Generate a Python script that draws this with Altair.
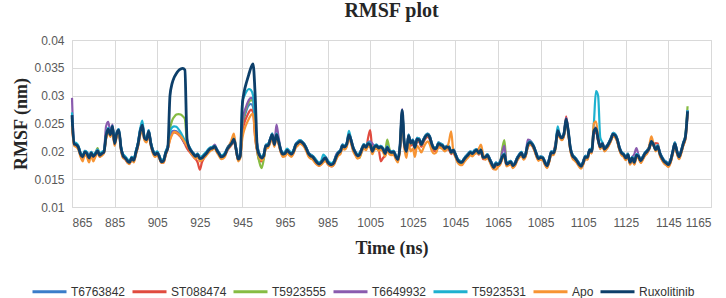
import altair as alt
import pandas as pd

start_residue = 865
series_names = ["T6763842", "ST088474", "T5923555", "T6649932", "T5923531", "Apo", "Ruxolitinib"]
series_colors = ["#3A7DC9", "#E04B3F", "#86BC43", "#8A5BAE", "#1EB1CF", "#F79433", "#0D3F6A"]
x_ticks = list(range(865, 1166, 20))
y_ticks = [0.01, 0.015, 0.02, 0.025, 0.03, 0.035, 0.04]

# RMSF values in units of 1e-4 nm, one value per residue from 865 to 1154
t6763842 = [
    255,215,214,206,197,192,197,198,190,195,
    193,196,200,195,197,200,226,238,232,240,
    216,230,236,208,194,190,185,182,187,186,
    200,215,240,245,226,223,234,216,202,196,
    199,192,183,185,199,209,228,236,237,236,
    233,228,222,215,212,206,199,196,193,195,
    189,190,193,197,202,206,208,208,203,197,
    192,193,198,206,212,217,220,203,188,194,
    240,262,275,283,285,280,230,202,195,190,
    194,208,212,222,228,214,228,216,204,197,
    198,204,200,197,202,212,217,219,214,210,
    206,198,194,192,187,182,179,182,187,190,
    183,179,178,182,192,199,202,212,209,214,
    228,218,204,197,193,196,205,212,209,216,
    214,203,209,211,207,207,203,198,208,202,
    200,200,193,187,208,268,213,202,226,214,
    220,209,221,220,214,221,226,228,223,210,
    204,206,213,211,209,206,209,206,200,203,
    195,187,183,182,186,191,195,199,197,201,
    203,198,201,190,190,194,187,180,173,179,
    178,182,192,196,179,180,182,176,180,189,
    194,198,191,196,213,214,211,204,196,189,
    190,189,182,176,186,199,199,210,235,226,
    222,230,255,234,204,193,189,185,179,175,
    182,192,191,203,202,232,238,220,207,212,
    205,209,215,221,229,227,219,205,198,195,
    190,195,182,189,182,194,192,185,190,197,
    201,207,216,211,204,208,197,189,184,181,
    178,184,199,212,201,192,201,213,225,270,
]
st088474 = [
    250,212,210,205,193,186,196,194,185,194,
    189,192,198,190,194,197,224,236,228,238,
    212,228,234,204,189,186,180,178,185,182,
    196,210,232,240,222,218,230,212,198,192,
    194,188,179,180,194,205,222,232,234,233,
    230,226,220,213,205,200,195,190,186,180,
    167,180,188,194,198,203,204,206,200,194,
    188,189,194,202,207,212,218,202,184,190,
    235,252,262,270,275,270,225,198,183,182,
    188,205,208,216,226,210,226,214,199,192,
    193,199,195,192,197,208,212,215,213,209,
    202,193,189,187,182,177,174,177,182,185,
    178,174,173,177,186,194,197,207,205,210,
    226,216,203,195,189,191,200,208,204,224,
    238,205,205,207,203,182,188,192,204,197,
    195,196,188,182,206,265,210,196,222,210,
    214,203,218,217,208,216,223,226,221,208,
    201,201,210,208,206,201,204,203,195,199,
    191,182,178,177,182,187,191,195,193,197,
    199,194,199,186,186,190,183,175,168,175,
    173,177,187,191,174,176,178,171,175,184,
    190,194,186,192,208,212,210,203,192,184,
    186,185,177,171,181,195,198,215,232,225,
    221,229,263,233,202,189,185,180,174,170,
    177,187,186,199,197,230,236,218,205,211,
    201,205,211,219,228,226,218,203,194,191,
    185,191,177,185,177,190,188,180,186,193,
    197,203,214,210,215,214,194,185,179,176,
    173,180,195,211,197,187,197,211,223,268,
]
t5923555 = [
    260,214,213,208,196,191,200,197,189,198,
    192,196,206,194,197,200,227,239,231,244,
    215,231,237,207,193,189,184,181,189,185,
    199,214,234,246,225,222,235,215,201,195,
    198,191,182,184,198,208,240,255,262,266,
    267,266,263,258,215,206,199,194,190,193,
    186,187,191,195,200,204,205,208,201,195,
    189,190,195,204,209,214,221,204,185,191,
    250,268,280,288,292,290,240,200,180,170,
    185,207,209,219,229,211,229,217,201,194,
    195,201,197,194,199,210,214,217,215,211,
    204,195,191,189,184,179,176,179,184,187,
    180,176,175,179,189,196,199,209,207,212,
    229,219,205,197,191,188,202,210,206,213,
    211,199,207,209,205,207,203,200,221,205,
    197,198,190,184,209,272,214,199,227,214,
    218,206,221,220,211,219,226,229,224,211,
    204,204,213,211,209,204,207,206,197,201,
    193,184,180,179,184,189,193,197,195,199,
    201,196,201,188,188,192,185,177,170,177,
    175,180,205,220,180,178,180,173,177,186,
    192,196,188,194,211,215,212,205,194,186,
    188,187,179,173,183,197,196,207,236,227,
    223,231,257,235,204,191,187,182,176,172,
    179,189,188,201,199,235,240,221,207,213,
    203,207,213,221,230,228,220,205,196,193,
    187,193,179,187,179,192,190,182,188,195,
    199,205,217,211,202,208,195,187,181,178,
    175,182,197,213,199,189,199,213,230,281,
]
t6649932 = [
    296,216,214,209,197,188,201,198,190,199,
    193,197,203,195,198,201,245,253,235,248,
    216,234,240,208,194,186,181,178,190,182,
    200,215,237,249,226,223,238,216,202,196,
    199,192,183,185,199,209,225,234,236,235,
    232,227,221,214,212,208,202,197,193,196,
    189,190,194,198,203,207,208,212,204,198,
    192,193,198,207,212,217,224,207,188,194,
    255,272,283,292,296,294,240,212,195,190,
    194,212,212,222,232,214,248,225,204,197,
    198,204,200,197,202,213,217,220,218,214,
    207,198,194,192,187,182,179,182,187,190,
    183,179,178,182,194,199,202,212,210,215,
    232,222,208,200,194,196,205,213,209,216,
    218,214,210,212,208,210,206,198,209,202,
    200,201,193,187,212,276,217,202,230,217,
    221,209,224,223,214,222,229,232,227,214,
    207,207,216,214,212,207,210,209,200,204,
    196,187,183,182,187,192,196,200,198,202,
    204,199,204,191,191,195,188,180,173,180,
    178,182,198,210,179,181,183,176,180,189,
    195,199,191,197,221,220,215,208,197,189,
    191,190,182,176,186,200,199,210,239,230,
    226,234,260,238,207,194,190,185,179,175,
    182,192,191,204,202,238,243,224,210,216,
    206,210,216,224,233,231,223,208,199,196,
    190,196,182,190,195,206,193,185,191,198,
    202,208,220,214,205,211,198,190,184,181,
    178,185,200,216,202,192,202,216,228,274,
]
t5923531 = [
    270,216,215,210,198,193,201,199,191,199,
    194,198,203,196,199,202,230,242,233,246,
    217,234,240,209,195,191,186,183,190,187,
    201,216,240,255,228,224,238,217,203,197,
    200,193,184,186,200,210,235,243,245,244,
    240,234,227,220,215,209,202,197,193,196,
    190,191,195,199,204,207,208,210,204,198,
    193,194,199,207,212,217,224,207,189,195,
    290,300,308,312,310,300,250,210,196,191,
    195,212,213,222,232,214,232,220,204,197,
    199,205,201,198,203,213,217,220,218,214,
    207,198,194,192,188,183,180,183,194,190,
    184,180,179,183,192,199,202,212,210,215,
    237,222,208,200,195,197,205,213,209,216,
    214,202,210,212,208,210,206,199,209,202,
    200,201,193,188,212,272,217,202,230,217,
    221,209,224,223,214,222,229,232,227,214,
    207,207,216,214,212,207,210,209,200,204,
    196,187,183,182,187,192,196,200,198,202,
    204,199,204,191,191,195,188,180,173,180,
    178,182,192,196,179,181,183,176,180,189,
    195,199,191,197,214,218,215,208,197,189,
    191,190,182,176,186,200,199,212,245,230,
    226,234,256,238,207,194,190,185,179,175,
    182,192,191,204,205,250,308,300,225,216,
    206,210,216,224,233,231,223,208,199,196,
    190,196,182,190,182,195,193,185,191,198,
    202,208,220,214,205,211,198,190,184,181,
    178,185,200,216,202,192,202,216,228,274,
]
apo = [
    245,210,208,203,190,182,194,190,180,192,
    182,190,198,190,192,197,222,234,226,236,
    210,226,232,202,188,186,180,177,185,180,
    194,208,228,236,220,216,230,210,196,190,
    193,187,179,180,193,205,220,230,235,234,
    231,227,222,216,210,204,196,191,187,190,
    182,184,188,192,197,201,203,205,198,192,
    186,187,192,205,212,222,232,205,182,188,
    224,240,250,258,265,268,222,200,189,184,
    188,205,206,215,225,208,225,213,198,190,
    191,197,193,190,196,206,210,214,212,208,
    200,191,187,185,180,176,174,176,180,183,
    177,174,173,176,185,192,195,205,203,208,
    225,214,200,193,187,189,198,206,202,209,
    207,195,203,205,201,203,199,191,202,195,
    193,194,186,180,204,262,208,188,215,200,
    205,190,210,205,198,206,214,218,212,200,
    196,198,207,206,204,200,204,218,236,200,
    190,180,176,175,180,185,189,193,191,195,
    197,205,212,195,185,189,182,173,168,167,
    172,176,186,190,173,175,177,170,174,183,
    189,193,185,191,207,212,210,202,191,183,
    185,184,176,170,180,194,193,204,232,224,
    220,228,252,232,200,187,183,179,173,169,
    176,186,185,198,196,250,254,225,204,210,
    200,204,210,218,227,225,217,202,193,190,
    184,190,176,184,176,189,187,179,185,192,
    196,210,227,214,200,205,192,184,178,175,
    172,179,194,210,196,186,196,210,222,268,
]
ruxolitinib = [
    265,213,212,207,195,190,199,196,188,197,
    191,195,201,193,196,199,228,240,230,245,
    214,232,238,206,192,188,183,180,188,184,
    198,213,235,247,224,221,236,214,200,194,
    197,190,181,183,197,207,300,322,333,340,
    345,348,349,346,222,207,200,195,191,194,
    187,188,192,196,201,205,206,209,202,196,
    190,191,196,205,210,215,222,205,186,192,
    285,310,325,338,350,357,300,205,193,188,
    192,210,210,220,230,212,230,218,202,195,
    196,202,198,195,200,211,215,218,216,212,
    205,196,192,190,185,180,177,180,185,188,
    181,177,176,180,190,197,200,210,208,213,
    230,220,206,198,192,194,203,211,207,214,
    212,200,208,210,206,208,204,196,207,200,
    198,199,191,185,210,274,215,200,228,215,
    219,207,222,221,212,220,227,230,225,212,
    205,205,214,212,210,205,208,207,198,202,
    194,185,181,180,185,190,194,198,196,200,
    202,197,202,189,189,193,186,178,171,178,
    176,180,190,194,177,179,181,174,178,187,
    193,197,189,195,212,216,213,206,195,187,
    189,188,180,174,184,198,197,208,237,228,
    224,232,258,236,205,192,188,183,177,173,
    180,190,189,202,200,236,241,222,208,214,
    204,208,214,222,231,229,221,206,197,194,
    188,194,180,188,180,193,191,183,189,196,
    200,206,218,212,203,209,196,188,182,179,
    176,183,198,214,200,190,200,214,226,272,
]

series_values = [t6763842, st088474, t5923555, t6649932, t5923531, apo, ruxolitinib]

rows = []
for name, arr in zip(series_names, series_values):
    assert len(arr) == 290, (name, len(arr))
    for i, v in enumerate(arr):
        rows.append({"time": start_residue + i, "rmsf": v / 10000.0, "series": name})
df = pd.DataFrame(rows)

color_scale = alt.Scale(domain=series_names, range=series_colors)
legend = alt.Legend(
    title=None, orient="none", legendX=-41, legendY=233, direction="horizontal",
    columns=7, symbolType="stroke", symbolSize=1156, symbolStrokeWidth=3,
    labelFont="Liberation Sans", labelFontSize=12, labelColor="#333333",
    columnPadding=0, labelOffset=3,
)

x_axis = alt.Axis(
    values=x_ticks, title="Time (ns)", format="d",
    grid=True, gridColor="#D9D9D9", gridWidth=1, domain=False, ticks=False,
    labelFont="Liberation Sans", labelFontSize=12, labelColor="#595959", labelPadding=10,
    titleFont="Liberation Serif", titleFontSize=18, titleFontWeight="bold", titleColor="#262626",
    titlePadding=11,
)
y_axis = alt.Axis(
    values=y_ticks, title="RMSF (nm)", format=".3~f",
    grid=True, gridColor="#D9D9D9", gridWidth=1, domain=False, ticks=False,
    labelFont="Liberation Sans", labelFontSize=12, labelColor="#595959", labelPadding=8,
    titleFont="Liberation Serif", titleFontSize=18, titleFontWeight="bold", titleColor="#262626",
    titlePadding=3,
)

layers = []
for name in series_names:
    sw = 2.8 if name == "Ruxolitinib" else 2.2
    layers.append(
        alt.Chart(df[df["series"] == name]).mark_line(interpolate="monotone", strokeWidth=sw).encode(
            x=alt.X("time:Q", scale=alt.Scale(domain=[865, 1165], nice=False, zero=False), axis=x_axis),
            y=alt.Y("rmsf:Q", scale=alt.Scale(domain=[0.01, 0.04], nice=False, zero=False), axis=y_axis),
            color=alt.Color("series:N", scale=color_scale, legend=legend),
        )
    )

chart = alt.layer(*layers).properties(
    width=639, height=167,
    title=alt.Title("RMSF plot", font="Liberation Serif", fontSize=20, fontWeight="bold",
                    color="#262626", anchor="middle", offset=13),
    autosize=alt.AutoSizeParams(type="none"),
    padding={"left": 72, "top": 40, "right": 15, "bottom": 91},
    background="white",
).configure_view(stroke="#D9D9D9")

chart.save("out.html", embed_options={"renderer": "svg", "actions": False})
